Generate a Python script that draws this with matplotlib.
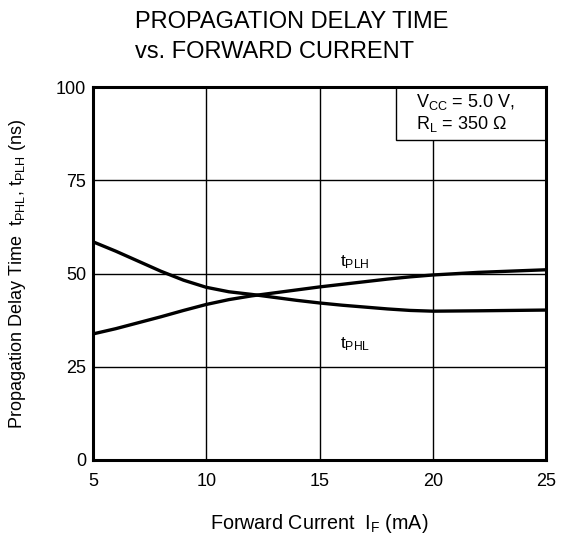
import matplotlib
matplotlib.use("Agg")
import matplotlib.pyplot as plt
from matplotlib.patches import Rectangle

plt.rcParams['font.family'] = ['Liberation Sans', 'DejaVu Sans']
plt.rcParams['mathtext.fontset'] = 'custom'
plt.rcParams['mathtext.rm'] = 'Liberation Sans'

# Data
if_tphl = [5, 6, 7, 8, 9, 10, 11, 12, 13, 14, 15, 16, 17, 18, 19, 20, 22, 25]
tphl = [58.5, 56.0, 53.3, 50.6, 48.2, 46.3, 45.1, 44.4, 43.6, 42.8, 42.1, 41.5, 41.0, 40.5, 40.1, 39.9, 40.0, 40.2]
if_tplh = [5, 6, 7, 8, 9, 10, 11, 12, 13, 14, 15, 16, 17, 18, 19, 20, 22, 25]
tplh = [33.8, 35.2, 36.8, 38.4, 40.1, 41.7, 43.0, 44.0, 44.8, 45.6, 46.4, 47.1, 47.8, 48.5, 49.1, 49.6, 50.3, 51.0]
xticks = [5, 10, 15, 20, 25]
yticks = [0, 25, 50, 75, 100]

fig = plt.figure(figsize=(5.69, 5.40), dpi=100)
ax = fig.add_axes([93/569, 1-460/540, (546-93)/569, (460-87)/540])
ax.set_xlim(5, 25)
ax.set_ylim(0, 100)
ax.set_xticks(xticks)
ax.set_yticks(yticks)
ax.tick_params(length=0, labelsize=13)
ax.tick_params(axis='x', pad=9)
ax.tick_params(axis='y', pad=5)
ax.grid(True, color='black', linewidth=1.0)
for s in ax.spines.values():
    s.set_linewidth(2.2)
    s.set_zorder(5)
ax.plot(if_tphl, tphl, color='black', linewidth=2.4)
ax.plot(if_tplh, tplh, color='black', linewidth=2.4)

ax.text(15.9, 53.1, r'$\mathregular{t_{PLH}}$', fontsize=12.5, ha='left', va='center')
ax.text(15.9, 31.0, r'$\mathregular{t_{PHL}}$', fontsize=12.5, ha='left', va='center')

bx0 = (396-93)/453
by0 = (460-140)/373
ax.add_patch(Rectangle((bx0, by0), 1-bx0, 1-by0, transform=ax.transAxes,
                       facecolor='white', edgecolor='black', linewidth=1.0, zorder=4))
ax.text((416-93)/453, (460-102)/373, r'$\mathregular{V_{CC}}$ = 5.0 V,', transform=ax.transAxes,
        ha='left', va='center', fontsize=13, zorder=6)
ax.text((416-93)/453, (460-124)/373, r'$\mathregular{R_{L}}$ = 350 Ω', transform=ax.transAxes,
        ha='left', va='center', fontsize=13, zorder=6)

fig.text(135/569, 1-37/540, 'PROPAGATION DELAY TIME\nvs. FORWARD CURRENT', ha='left', va='center',
         fontsize=17, linespacing=1.42)
ax.set_xlabel(r'Forward Current  $\mathregular{I_{F}}$ (mA)', fontsize=14.2, labelpad=16)
ax.set_ylabel(r'Propagation Delay Time  $\mathregular{t_{PHL}}$, $\mathregular{t_{PLH}}$ (ns)', fontsize=13, labelpad=20)

fig.savefig('out.png', dpi=100)
